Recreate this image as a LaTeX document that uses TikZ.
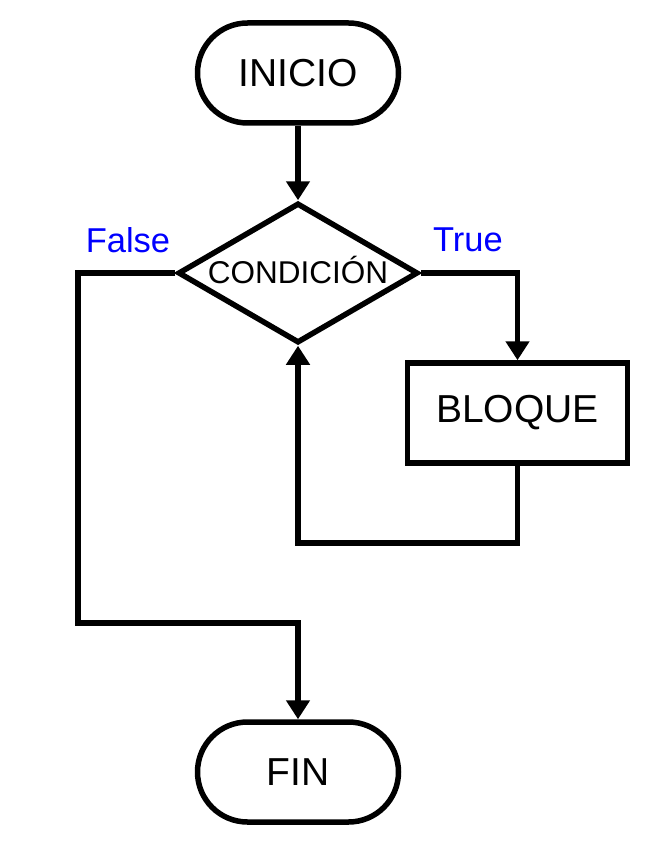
\documentclass[tikz,border=0pt]{standalone}
\usepackage{fontspec}
\setmainfont{Liberation Sans}
\usetikzlibrary{shapes.geometric,arrows.meta}
\definecolor{lblblue}{RGB}{0,0,255}
\tikzset{
  every node/.style={inner sep=0pt},
  terminal/.style={draw,line width=5.5pt,rounded corners=50pt,minimum width=201pt,minimum height=100pt,font=\fontsize{39}{42}\selectfont},
  decision/.style={draw,diamond,line width=5.5pt,minimum width=240pt,minimum height=140pt},
  dtext/.style={font=\fontsize{31.5}{34}\selectfont},
  process/.style={draw,line width=5.5pt,minimum width=220pt,minimum height=100pt,font=\fontsize{39}{42}\selectfont},
  lbl/.style={text=lblblue,font=\fontsize{34.5}{37}\selectfont},
  arr/.style={line width=5.5pt,-{Triangle[length=19pt,width=23pt]}}
}
\begin{document}
\begin{tikzpicture}[x=1pt,y=-1pt]
\useasboundingbox (0,0) rectangle (670,850);
\node[terminal] (inicio) at (298,73) {INICIO};
\node[decision] (cond) at (298,273) {};
\node[dtext] (condtxt) at (298,270) {CONDICIÓN};
\node[process] (bloque) at (517.5,413) {BLOQUE};
\node[terminal] (fin) at (298,772) {FIN};
\node[lbl] (false) at (128,240) {False};
\node[lbl] (true) at (468,240) {True};
\coordinate (loop) at (517.5,543);
\coordinate (fl) at (78,623);
\draw[arr] (inicio) -- (cond);
\draw[arr] (cond.east) -| (bloque.north);
\draw[arr] (bloque.south) -- (loop) -| (cond.south);
\draw[arr] (cond.west) -| (fl) -| (fin.north);
\end{tikzpicture}
\end{document}
